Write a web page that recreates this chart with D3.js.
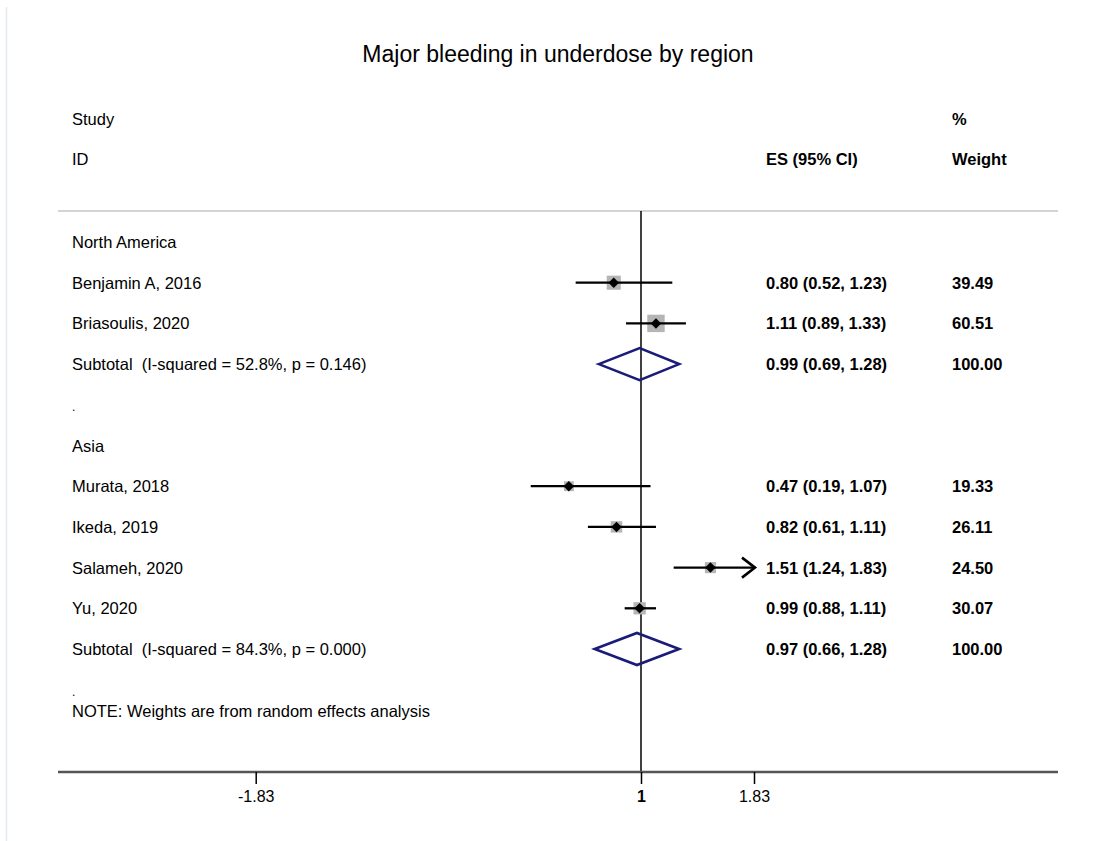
<!DOCTYPE html>
<html>
<head>
<meta charset="utf-8">
<script src="https://cdn.jsdelivr.net/npm/d3@7"></script>
<style>
  body { margin: 0; background: #fff; }
  svg text { font-family: "Liberation Sans", Arial, sans-serif; fill: #000; white-space: pre; }
</style>
</head>
<body>
<script>
// rows of the forest plot, top to bottom
const rowLabels = ["North America", "Benjamin A, 2016", "Briasoulis, 2020",
  "Subtotal  (I-squared = 52.8%, p = 0.146)", ".", "Asia", "Murata, 2018",
  "Ikeda, 2019", "Salameh, 2020", "Yu, 2020",
  "Subtotal  (I-squared = 84.3%, p = 0.000)", "."];
const rowType = ["group", "study", "study", "subtotal", "blank", "group", "study",
  "study", "study", "study", "subtotal", "blank"];
const es = [null, 0.80, 1.11, 0.99, null, null, 0.47, 0.82, 1.51, 0.99, 0.97, null];
const lower = [null, 0.52, 0.89, 0.69, null, null, 0.19, 0.61, 1.24, 0.88, 0.66, null];
const upper = [null, 1.23, 1.33, 1.28, null, null, 1.07, 1.11, 1.83, 1.11, 1.28, null];
const weights = [null, 39.49, 60.51, 100.00, null, null, 19.33, 26.11, 24.50, 30.07, 100.00, null];
const xTicks = [-1.83, 1, 1.83];
const axisMax = 1.83;
const title = "Major bleeding in underdose by region";
const note = "NOTE: Weights are from random effects analysis";

const W = 1094, H = 841;
const fs = "16.5px";
const svg = d3.select("body").append("svg").attr("width", W).attr("height", H);

let x = d3.scaleLinear().domain([1, 1.83]).range([641, 754]);
let y = d3.scaleLinear().domain([0, 10]).range([242, 649]);
let box = d3.scaleSqrt().domain([0, 100]).range([0, 22.4]);
const f2 = v => v.toFixed(2); // plain hyphen for negatives, like the original

// faint frame edge on the left
svg.append("line").attr("x1", 6.5).attr("x2", 6.5).attr("y1", 7).attr("y2", H)
  .attr("stroke", "#e3eaef").attr("stroke-width", 1.5);

svg.append("text").attr("x", 558).attr("y", 62).attr("text-anchor", "middle")
  .style("font-size", "23px").text(title);

// header
let hdr = svg.append("g").style("font-size", fs);
hdr.append("text").attr("x", 72).attr("y", 125).text("Study");
hdr.append("text").attr("x", 72).attr("y", 165).text("ID");
hdr.append("text").attr("x", 766).attr("y", 165).style("font-weight", "bold").text("ES (95% CI)");
hdr.append("text").attr("x", 952).attr("y", 125).style("font-weight", "bold").text("%");
hdr.append("text").attr("x", 952).attr("y", 165).style("font-weight", "bold").text("Weight");

svg.append("line").attr("x1", 58).attr("x2", 1058).attr("y1", 211).attr("y2", 211)
  .attr("stroke", "#c6c6c6").attr("stroke-width", 1.5);

// null line
svg.append("line").attr("x1", x(1)).attr("x2", x(1)).attr("y1", 211).attr("y2", 772)
  .attr("stroke", "#000").attr("stroke-width", 1.5);

const idx = d3.range(rowLabels.length);

// left labels
svg.append("g").style("font-size", fs).selectAll("text").data(idx).join("text")
  .attr("x", 72).attr("y", i => y(i) + 6)
  .attr("xml:space", "preserve")
  .style("font-size", i => rowType[i] == "blank" ? "12px" : null)
  .text(i => rowLabels[i]);

// ES and weight columns
let withEs = idx.filter(i => es[i] != null);
let cols = svg.append("g").style("font-size", fs).style("font-weight", "bold");
cols.selectAll("text.es").data(withEs).join("text").attr("class", "es")
  .attr("x", 766).attr("y", i => y(i) + 6)
  .text(i => f2(es[i]) + " (" + f2(lower[i]) + ", " + f2(upper[i]) + ")");
cols.selectAll("text.wt").data(withEs).join("text").attr("class", "wt")
  .attr("x", 952).attr("y", i => y(i) + 6)
  .text(i => f2(weights[i]));

// studies: weight boxes, CI lines, point estimates
let studies = idx.filter(i => rowType[i] == "study");
let marks = svg.append("g");
marks.selectAll("rect").data(studies).join("rect")
  .attr("x", i => x(es[i]) - box(weights[i]) / 2)
  .attr("y", i => y(i) - box(weights[i]) / 2)
  .attr("width", i => box(weights[i])).attr("height", i => box(weights[i]))
  .attr("fill", "#b5b5b5");
marks.selectAll("line").data(studies).join("line")
  .attr("x1", i => x(lower[i])).attr("x2", i => x(Math.min(upper[i], axisMax)))
  .attr("y1", i => y(i)).attr("y2", i => y(i))
  .attr("stroke", "#000").attr("stroke-width", 2.3);
marks.selectAll("path.pt").data(studies).join("path").attr("class", "pt")
  .attr("transform", i => "translate(" + x(es[i]) + "," + y(i) + ")")
  .attr("d", d3.symbol(d3.symbolDiamond2, 70)).attr("fill", "#000");
// arrow where the CI reaches the axis limit
marks.selectAll("path.arr").data(studies.filter(i => upper[i] >= axisMax)).join("path")
  .attr("class", "arr")
  .attr("d", i => "M" + (x(axisMax) - 12) + "," + (y(i) - 10) + "L" + (x(axisMax) + 1) + "," + y(i)
    + "L" + (x(axisMax) - 12) + "," + (y(i) + 10))
  .attr("fill", "none").attr("stroke", "#000").attr("stroke-width", 2.6);

// subtotal diamonds
svg.append("g").selectAll("path").data(idx.filter(i => rowType[i] == "subtotal")).join("path")
  .attr("d", i => "M" + x(lower[i]) + "," + y(i) + "L" + x(es[i]) + "," + (y(i) - 16)
    + "L" + x(upper[i]) + "," + y(i) + "L" + x(es[i]) + "," + (y(i) + 16) + "Z")
  .attr("fill", "none").attr("stroke", "#1b1b78").attr("stroke-width", 2.6);

svg.append("text").attr("x", 72).attr("y", 717).style("font-size", fs).text(note);

// x axis
svg.append("line").attr("x1", 58).attr("x2", 1058).attr("y1", 772).attr("y2", 772)
  .attr("stroke", "#555").attr("stroke-width", 2.5);
let ax = svg.append("g").attr("transform", "translate(0,772)")
  .call(d3.axisBottom(x).tickValues(xTicks).tickSize(12).tickFormat(d => d == 1 ? "1" : f2(d)));
ax.select(".domain").remove();
ax.selectAll(".tick line").attr("stroke", "#000").attr("stroke-width", 1.5);
ax.selectAll(".tick text").attr("y", 30).attr("dy", 0)
  .style("font-size", "16px").style("font-family", '"Liberation Sans", Arial, sans-serif')
  .style("font-weight", d => d == 1 ? "bold" : null).attr("fill", "#000");
</script>
</body>
</html>
